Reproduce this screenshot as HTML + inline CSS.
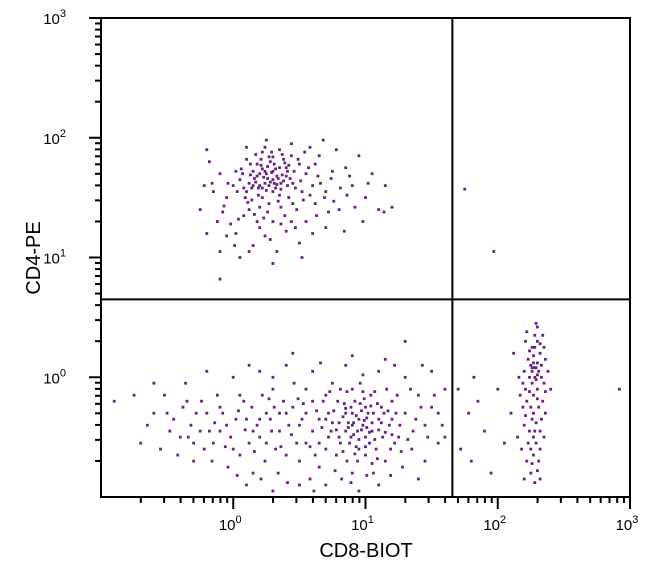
<!DOCTYPE html>
<html><head><meta charset="utf-8"><style>
body{margin:0;background:#fff;width:650px;height:582px;overflow:hidden}
svg{display:block;font-family:"Liberation Sans",sans-serif}
</style></head><body>
<svg id="chart" width="650" height="582" viewBox="0 0 650 582">
<g id="dots"></g>
<g id="axes"></g>
</svg>
<script>
// log10 values (CD8 x, CD4 y)
const xTicks = [-1, 0, 1, 2, 3];
const yTicks = [-1, 0, 1, 2, 3];
const tickLabels = ["0", "1", "2", "3"];
const gateX = 1.657;
const gateY = 0.65;
const cd4Pos = [0.25,1.7,0.3,1.65,0.2,1.6,0.35,1.75,0.15,1.72,0.28,1.8,0.4,1.68,0.1,1.55,0.22,1.5,0.32,1.58,0.45,1.62,0.05,1.65,0.18,1.78,0.38,1.82,0.27,1.45,0.12,1.4,0.42,1.5,0.55,1.7,0.6,1.6,0.5,1.78,0.0,1.6,-0.05,1.5,0.08,1.35,0.3,1.3,0.2,1.25,0.48,1.4,0.62,1.45,0.7,1.55,0.75,1.72,0.65,1.85,0.35,1.9,0.22,1.88,0.1,1.82,-0.1,1.7,-0.15,1.55,-0.08,1.38,0.02,1.2,0.15,1.1,0.28,1.15,0.4,1.22,0.55,1.3,0.8,1.4,0.9,1.6,0.85,1.75,0.58,1.92,0.44,1.95,0.25,1.98,-0.2,1.9,-0.25,1.4,-0.2,1.2,-0.1,1.05,0.05,1.0,0.33,1.05,0.5,1.12,0.7,1.25,1.0,1.5,1.05,1.7,0.95,1.85,0.78,1.9,0.68,1.98,0.3,1.72,0.24,1.62,0.36,1.62,0.16,1.66,0.3,1.55,0.4,1.75,0.2,1.7,0.33,1.68,0.27,1.6,0.21,1.82,0.46,1.72,0.14,1.48,0.52,1.55,0.36,1.42,0.06,1.74,0.12,1.62,0.26,1.38,0.44,1.85,0.58,1.52,0.64,1.68,-0.02,1.28,0.18,1.3,0.1,1.92,0.72,1.38,0.86,1.52,1.1,1.4,1.15,1.6,0.98,1.3,0.6,1.2,-0.1,0.82,0.3,0.95,1.2,1.42,0.84,1.22,-0.22,1.6,-0.18,1.8,1.75,1.57,1.97,1.05,1.14,1.38,0.22,1.74,0.34,1.66,0.26,1.76,0.19,1.58,0.31,1.78,0.41,1.6,
0.23,1.67,0.29,1.71,0.33,1.61,0.37,1.69,0.17,1.63,0.21,1.77,0.27,1.84,0.39,1.79,0.43,1.66,0.13,1.69,0.08,1.58,0.19,1.52,0.25,1.56,0.31,1.62,0.35,1.52,0.47,1.58,0.51,1.64,0.41,1.72,0.29,1.88,0.17,1.86,0.07,1.7,0.03,1.55,0.11,1.46,0.2,1.42,0.34,1.47,0.45,1.45,0.53,1.48,0.57,1.75,0.49,1.82,0.37,1.86,0.24,1.92,0.13,1.78,0.02,1.72,-0.04,1.62,-0.07,1.43,0.04,1.32,0.16,1.36,0.23,1.33,0.39,1.35,0.66,1.62,0.69,1.5,0.62,1.78,0.74,1.66,0.81,1.58,0.88,1.68,0.54,1.88,0.3,1.84,0.26,1.66,0.32,1.74,0.24,1.72,0.28,1.63,0.36,1.57,0.18,1.68,0.42,1.77,0.14,1.58,0.09,1.5,0.22,1.58,0.38,1.64,0.15,1.6,-0.12,1.3,-0.16,1.62,0.01,1.1,0.24,1.18,0.47,1.25,0.63,1.35,0.76,1.47,0.92,1.42,1.02,1.62,0.52,1.0,0.12,1.05,-0.05,1.18,0.36,1.28,0.44,1.3];
const doubleNeg = [-0.9,-0.2,-0.75,-0.15,-0.6,-0.3,-0.55,-0.6,-0.45,-0.35,-0.4,-0.5,-0.35,-0.2,-0.3,-0.7,-0.25,-0.45,-0.2,-0.3,-0.15,-0.55,-0.1,-0.25,-0.05,-0.4,0.0,-0.6,0.05,-0.15,0.1,-0.35,0.15,-0.8,0.2,-0.5,0.25,-0.3,0.3,-0.1,0.35,-0.45,0.4,-0.65,0.45,-0.25,0.5,-0.4,0.55,-0.55,0.6,-0.2,0.65,-0.75,0.7,-0.35,0.75,-0.05,0.8,-0.5,0.85,-0.3,0.9,-0.4,0.95,-0.6,1.0,-0.25,1.05,-0.45,1.1,-0.35,1.15,-0.7,1.2,-0.2,1.25,-0.5,1.3,-0.3,1.35,-0.6,1.4,-0.15,1.45,-0.4,1.5,-0.25,1.55,-0.55,1.6,-0.1,0.85,-0.45,0.9,-0.3,0.95,-0.35,1.0,-0.5,0.92,-0.2,0.98,-0.4,1.02,-0.3,0.88,-0.55,0.8,-0.38,1.08,-0.6,1.12,-0.25,0.76,-0.28,0.7,-0.6,0.94,-0.7,1.04,-0.15,0.86,-0.12,0.96,-0.05,1.06,-0.8,0.82,-0.85,0.74,-0.45,0.68,-0.2,1.18,-0.4,1.22,-0.55,1.28,-0.75,1.16,-0.1,0.6,-0.45,0.55,-0.3,0.5,-0.7,0.42,-0.4,0.38,-0.2,0.32,-0.6,0.28,-0.35,0.22,-0.15,0.18,-0.4,0.12,-0.55,0.08,-0.2,0.02,-0.35,-0.02,-0.5,-0.08,-0.3,-0.12,-0.15,-0.18,-0.45,-0.22,-0.6,-0.28,-0.3,-0.32,-0.4,-0.38,-0.25,-0.48,-0.45,-0.52,-0.15,-0.65,-0.4,-0.7,-0.55,0.2,0.05,0.4,0.1,0.6,0.05,0.0,0.0,0.85,0.1,1.1,0.05,1.3,0.0,1.5,0.05,-0.2,0.05,0.5,-0.9,0.3,-0.95,0.7,-0.9,0.95,-0.95,1.1,-0.9,0.1,-0.9,1.4,-0.85,1.6,-0.5,1.55,-0.3,1.45,-0.7,0.45,0.2,0.9,0.18,1.15,0.15,1.3,0.3,0.55,-0.1,0.65,-0.55,0.78,-0.65,0.9,-0.8,1.0,-0.65,1.13,-0.5,1.2,-0.35,1.24,-0.15,0.99,-0.18,0.91,-0.48,0.84,-0.22,0.73,-0.12,1.05,-0.38,0.97,-0.28,0.87,-0.38,1.01,-0.42,0.93,-0.58,1.09,-0.22,0.79,-0.2,0.83,-0.62,0.24,-0.7,0.34,-0.8,0.14,-0.25,-0.04,-0.75,-0.42,-0.65,0.46,-0.05,0.58,-0.85,1.36,-0.45,1.42,-0.25,1.34,-0.1,-0.6,-0.05,0.15,-0.45,0.25,-0.55,0.35,-0.3,0.62,-0.65,0.72,-0.5,0.81,-0.1,1.03,-0.55,1.14,-0.3,1.19,-0.6,1.26,-0.4,0.89,-0.25,0.94,-0.45,1.07,-0.12,0.65,-0.35,0.48,-0.55,-0.1,-0.45,-0.3,-0.55,0.05,-0.65,
0.87,-0.42,0.93,-0.32,0.99,-0.36,1.03,-0.46,0.89,-0.5,0.95,-0.52,1.06,-0.3,1.1,-0.44,0.83,-0.33,0.91,-0.38,0.97,-0.44,1.01,-0.34,0.85,-0.26,1.07,-0.52,1.12,-0.38,0.78,-0.44,0.81,-0.55,0.96,-0.22,1.04,-0.24,1.15,-0.46,1.17,-0.28,0.92,-0.64,1.0,-0.58,1.09,-0.68,0.86,-0.7,0.72,-0.3,0.75,-0.38,1.2,-0.48,1.23,-0.3,0.98,-0.12,0.9,-0.1,1.05,-0.72,1.27,-0.62,0.67,-0.42,0.63,-0.28,0.58,-0.58,0.52,-0.35,0.44,-0.48,0.4,-0.3,0.36,-0.58,0.29,-0.45,0.2,-0.35,0.16,-0.62,0.09,-0.44,0.04,-0.28,-0.06,-0.58,-0.14,-0.38,-0.24,-0.2,-0.34,-0.5,0.27,-0.18,0.31,-0.25,0.53,-0.22,0.49,-0.18,0.7,-0.15,0.77,-0.78,0.89,-0.88,1.01,-0.82,1.19,-0.82,1.32,-0.52,1.38,-0.35,1.47,-0.5,1.52,-0.15,1.58,-0.4,0.61,-0.95,0.41,-0.88,0.21,-0.85,0.03,-0.82,-0.16,-0.7,0.66,0.12,0.98,0.02,1.22,0.1,1.43,0.1,0.12,0.1,0.3,0.0,-0.36,-0.05,-0.5,-0.3];
const cd8Pos = [2.28,0.0,2.25,0.1,2.3,-0.1,2.22,-0.2,2.32,0.2,2.27,-0.3,2.2,0.05,2.35,-0.05,2.26,0.25,2.3,0.3,2.24,-0.45,2.29,-0.55,2.33,-0.35,2.18,-0.6,2.36,0.15,2.21,0.3,2.31,-0.7,2.25,-0.8,2.19,-0.25,2.34,-0.2,2.23,0.15,2.28,0.35,2.3,0.42,2.26,-0.05,2.32,-0.6,2.2,-0.4,2.16,0.0,2.38,0.05,2.27,-0.15,2.29,0.08,2.24,0.0,2.31,-0.25,2.22,-0.7,2.35,-0.5,2.28,-0.88,2.17,-0.15,2.3,0.12,2.27,0.18,2.25,-0.6,2.33,0.0,2.21,-0.1,2.36,-0.3,2.15,-0.5,2.4,-0.1,2.12,0.2,2.1,-0.3,2.28,-0.45,2.26,0.05,2.32,0.28,2.2,-0.85,1.8,-0.7,1.85,-0.2,1.9,-0.45,1.95,-0.8,2.0,-0.1,1.78,-0.3,2.05,-0.55,1.82,0.0,1.72,-0.6,1.7,-0.1,2.92,-0.1,
2.29,-0.02,2.26,0.08,2.31,0.05,2.24,-0.12,2.3,-0.18,2.27,0.12,2.33,0.1,2.25,-0.25,2.29,-0.38,2.23,-0.55,2.32,-0.45,2.27,-0.65,2.3,-0.78,2.24,0.22,2.28,0.25,2.34,0.35,2.21,-0.32,2.26,-0.72,2.32,-0.85,2.19,-0.05,2.36,-0.12,2.28,0.08,2.3,0.02,2.26,-0.35,2.22,0.38,2.29,0.45,2.27,-0.5,2.35,0.25];

const X0 = 101, X1 = 630, Y0 = 497, Y1 = 18;
const xs = v => X0 + (v + 1) / 4 * (X1 - X0);
const ys = v => Y0 - (v + 1) / 4 * (Y0 - Y1);
const NS = "http://www.w3.org/2000/svg";
function mk(tag, attrs, parent) {
  const e = document.createElementNS(NS, tag);
  for (const k in attrs) e.setAttribute(k, attrs[k]);
  parent.appendChild(e);
  return e;
}
const dots = document.getElementById('dots');
[[cd4Pos, 'cd4-single-positive'], [doubleNeg, 'double-negative'], [cd8Pos, 'cd8-single-positive']].forEach(([arr, name]) => {
  const g = mk('g', {fill: '#6a1f85'}, dots);
  
  
  for (let i = 0; i < arr.length; i += 2) {
    const r = mk('rect', {x: (xs(arr[i]) - 1.4).toFixed(1), y: (ys(arr[i + 1]) - 1.4).toFixed(1), width: 2.8, height: 2.8}, g);
    
    
  }
});
const ax = document.getElementById('axes');
const frame = mk('path', {d: `M${X0} ${Y1}H${X1}V${Y0}H${X0}Z`, fill: 'none', stroke: '#000', 'stroke-width': 2}, ax);


const vg = mk('line', {x1: xs(gateX), x2: xs(gateX), y1: Y1, y2: Y0, stroke: '#000', 'stroke-width': 2}, ax);


const hg = mk('line', {x1: X0, x2: X1, y1: ys(gateY), y2: ys(gateY), stroke: '#000', 'stroke-width': 2}, ax);


for (let d = -1; d < 3; d++) {
  for (let m = 2; m <= 10; m++) {
    const v = d + Math.log10(m);
    const major = m === 10;
    const L = major ? 12 : 6;
    const tx = mk('line', {x1: xs(v), x2: xs(v), y1: Y0, y2: Y0 + L, stroke: '#000', 'stroke-width': 2}, ax);
    
    
    const ty = mk('line', {x1: X0 - L, x2: X0, y1: ys(v), y2: ys(v), stroke: '#000', 'stroke-width': 2}, ax);
    
    
  }
}
xTicks.slice(1).forEach((t, i) => {
  const tl = mk('text', {x: xs(t) - 3, y: 530, 'font-size': 15, 'text-anchor': 'middle'}, ax);
  
  
  tl.innerHTML = `10<tspan dy="-7" font-size="11">${tickLabels[i]}</tspan>`;
});
yTicks.slice(1).forEach((t, i) => {
  const tl = mk('text', {x: 66, y: ys(t) + 6, 'font-size': 15, 'text-anchor': 'end'}, ax);
  
  
  tl.innerHTML = `10<tspan dy="-7" font-size="11">${tickLabels[i]}</tspan>`;
});
const xt = mk('text', {x: 366, y: 557, 'font-size': 20, 'text-anchor': 'middle'}, ax);


xt.textContent = 'CD8-BIOT';
const yt = mk('text', {x: 0, y: 0, 'font-size': 20, 'text-anchor': 'middle', transform: 'translate(40 258) rotate(-90)'}, ax);


yt.textContent = 'CD4-PE';
</script>
</body></html>
